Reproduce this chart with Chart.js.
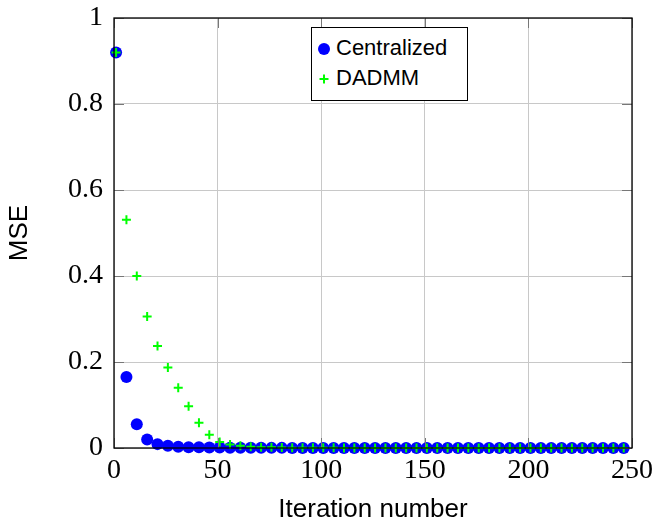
<!DOCTYPE html>
<html>
<head>
<meta charset="utf-8">
<script src="https://cdn.jsdelivr.net/npm/chart.js@4"></script>
<style>
  html, body { margin: 0; padding: 0; background: #fff; }
  #wrap { position: relative; width: 657px; height: 523px; }
  #legend {
    position: absolute; left: 311px; top: 27px; width: 155px; height: 72px;
    border: 1px solid #000; background: #fff;
    font-family: "Liberation Sans", Arial, sans-serif; font-size: 22px; color: #000;
  }
  .row { position: absolute; left: 0; height: 26px; line-height: 26px; }
  .row span.t { position: absolute; left: 24px; white-space: nowrap; }
  .row svg { position: absolute; left: 5px; top: 7px; }
</style>
</head>
<body>
<div id="wrap">
  <canvas id="c" width="657" height="523"></canvas>
  <div id="legend">
    <div class="row" style="top:7px;"><svg width="14" height="14"><circle cx="7" cy="7" r="6" fill="#0000ff"/></svg><span class="t">Centralized</span></div>
    <div class="row" style="top:37px;"><svg width="14" height="14"><path d="M7 2.5 V11.5 M2.5 7 H11.5" stroke="#00ff00" stroke-width="2"/></svg><span class="t">DADMM</span></div>
  </div>
</div>
<script>
const iterations = [1, 6, 11, 16, 21, 26, 31, 36, 41, 46, 51, 56, 61, 66, 71, 76, 81, 86, 91, 96,
  101, 106, 111, 116, 121, 126, 131, 136, 141, 146, 151, 156, 161, 166, 171, 176, 181, 186, 191, 196,
  201, 206, 211, 216, 221, 226, 231, 236, 241, 246];
const centralized = [0.92, 0.165, 0.055, 0.020, 0.009, 0.005, 0.003, 0.002, 0.0015, 0.001,
  0.001, 0.0008, 0.0006, 0.0005, 0.0004, 0.0003, 0.0003, 0.0002, 0.0002, 0.0002,
  0.0001, 0.0001, 0.0001, 0.0001, 0.0001, 0, 0, 0, 0, 0,
  0, 0, 0, 0, 0, 0, 0, 0, 0, 0,
  0, 0, 0, 0, 0, 0, 0, 0, 0, 0];
const dadmm = [0.92, 0.531, 0.400, 0.306, 0.237, 0.187, 0.140, 0.097, 0.059, 0.031,
  0.014, 0.008, 0.005, 0.003, 0.002, 0.0015, 0.001, 0.0008, 0.0006, 0.0005,
  0.0004, 0.0003, 0.0002, 0.0002, 0.0001, 0.0001, 0, 0, 0, 0,
  0, 0, 0, 0, 0, 0, 0, 0, 0, 0,
  0, 0, 0, 0, 0, 0, 0, 0, 0, 0];
const xTicks = [0, 50, 100, 150, 200, 250];
const yTicks = [0, 0.2, 0.4, 0.6, 0.8, 1];
const seriesNames = ['Centralized', 'DADMM'];
const xTitle = 'Iteration number';
const yTitle = 'MSE';

const toPts = (xs, ys) => xs.map((x, i) => ({ x: x, y: ys[i] }));

const frame = {
  id: 'frame',
  afterDatasetsDraw(chart) {
    const { ctx, chartArea: a, scales } = chart;
    ctx.save();
    ctx.strokeStyle = '#777';
    ctx.lineWidth = 1;
    const L = 10;
    ctx.beginPath();
    xTicks.forEach(v => {
      const px = Math.round(scales.x.getPixelForValue(v)) + 0.5;
      ctx.moveTo(px, a.bottom); ctx.lineTo(px, a.bottom - L);
      ctx.moveTo(px, a.top); ctx.lineTo(px, a.top + L);
    });
    yTicks.forEach(v => {
      const py = Math.round(scales.y.getPixelForValue(v)) + 0.5;
      ctx.moveTo(a.left, py); ctx.lineTo(a.left + L, py);
      ctx.moveTo(a.right, py); ctx.lineTo(a.right - L, py);
    });
    ctx.stroke();
    ctx.strokeStyle = '#000';
    ctx.lineWidth = 1.3;
    ctx.strokeRect(a.left, a.top, a.right - a.left, a.bottom - a.top);
    ctx.restore();
  }
};

new Chart(document.getElementById('c'), {
  type: 'scatter',
  data: {
    datasets: [
      {
        label: seriesNames[0],
        data: toPts(iterations, centralized),
        pointStyle: 'circle',
        pointRadius: 6,
        pointBackgroundColor: '#0000ff',
        pointBorderColor: '#0000ff',
        pointBorderWidth: 0,
        showLine: false,
        order: 2
      },
      {
        label: seriesNames[1],
        data: toPts(iterations, dadmm),
        pointStyle: 'cross',
        pointRadius: 4.5,
        pointBorderColor: '#00ff00',
        pointBackgroundColor: '#00ff00',
        pointBorderWidth: 2,
        showLine: false,
        order: 1
      }
    ]
  },
  options: {
    responsive: false,
    animation: false,
    clip: false,
    layout: { padding: { left: 0, top: 18, right: 25, bottom: 0 } },
    plugins: { legend: { display: false }, tooltip: { enabled: false } },
    scales: {
      x: {
        type: 'linear', min: 0, max: 250,
        afterBuildTicks: s => { s.ticks = xTicks.map(v => ({ value: v })); },
        afterFit: s => { s.height = 75; s.paddingLeft = 0; s.paddingRight = 0; },
        grid: { color: '#c8c8c8', drawTicks: false },
        border: { display: false },
        ticks: {
          padding: 6,
          color: '#000',
          font: { family: '"Liberation Serif", serif', size: 28 },
          callback: v => String(v)
        },
        title: {
          display: true, text: xTitle, color: '#000',
          font: { family: '"Liberation Sans", Arial, sans-serif', size: 26 },
          padding: { top: 0, bottom: -2 }
        }
      },
      y: {
        type: 'linear', min: 0, max: 1,
        afterBuildTicks: s => { s.ticks = yTicks.map(v => ({ value: v })); },
        afterFit: s => { s.width = 114; s.paddingTop = 0; s.paddingBottom = 0; },
        grid: { color: '#c8c8c8', drawTicks: false },
        border: { display: false },
        ticks: {
          padding: 11,
          color: '#000',
          font: { family: '"Liberation Serif", serif', size: 28 },
          callback: v => String(v)
        },
        title: {
          display: true, text: yTitle, color: '#000',
          font: { family: '"Liberation Sans", Arial, sans-serif', size: 26 },
          padding: { top: 4, bottom: 0 }
        }
      }
    }
  },
  plugins: [frame]
});
</script>
</body>
</html>
